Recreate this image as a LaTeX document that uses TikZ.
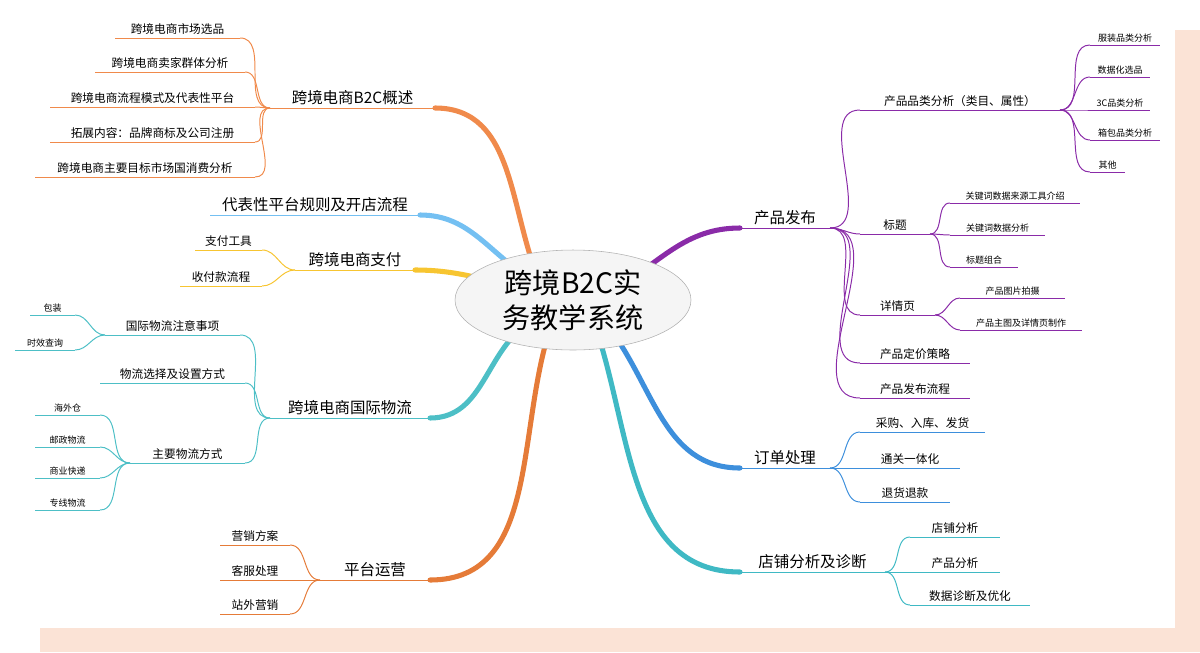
\documentclass[tikz,border=0pt]{standalone}
\usepackage{fontspec}
\setmainfont{Noto Sans CJK SC}
\usetikzlibrary{calc,positioning,shapes.geometric}
\definecolor{bgpeach}{HTML}{FBE3D6}
\definecolor{cOrange}{HTML}{F08A4B}
\definecolor{cBlue}{HTML}{74C0F2}
\definecolor{cYellow}{HTML}{F7C531}
\definecolor{cTeal}{HTML}{4DBFC6}
\definecolor{cRust}{HTML}{E57B38}
\definecolor{cPurple}{HTML}{8A2BA8}
\definecolor{cBlueB}{HTML}{3D8FDC}
\definecolor{cTealB}{HTML}{3FB9C4}
\tikzset{
  mainfont/.style = {font=\fontsize{11}{13}\selectfont},
  subfont/.style  = {font=\fontsize{8.3}{10}\selectfont},
  leaffont/.style = {font=\fontsize{6.4}{8}\selectfont},
  branch/.style   = {line width=3.6pt, line cap=round},
  twig/.style     = {line width=0.7pt}
}
% topic: name, font style, colour, x1, x2, y, text
\newcommand\topic[7]{%
  \coordinate (#1-l) at (#4,#6); \coordinate (#1-r) at (#5,#6);
  \draw[twig, #3] (#1-l) -- (#1-r);
  \node[#2, anchor=south, inner sep=2pt] (#1) at ($(#1-l)!0.5!(#1-r)$) {#7};}
\begin{document}
\begin{tikzpicture}[x=0.025cm, y=-0.025cm]
  \useasboundingbox (0,0) rectangle (1200,652);
  \fill[bgpeach] (1175,30) rectangle (1200,652);
  \fill[bgpeach] (40,628) rectangle (1200,652);
  \coordinate (c) at (573,300);

  % left side
  \topic{gs}{mainfont}{cOrange}{270}{435}{108}{跨境电商B2C概述}
  \topic{gs1}{subfont}{cOrange}{115}{240}{38}{跨境电商市场选品}
  \topic{gs2}{subfont}{cOrange}{95}{245}{72}{跨境电商卖家群体分析}
  \topic{gs3}{subfont}{cOrange}{50}{255}{107}{跨境电商流程模式及代表性平台}
  \topic{gs4}{subfont}{cOrange}{50}{255}{142}{拓展内容：品牌商标及公司注册}
  \topic{gs5}{subfont}{cOrange}{35}{255}{177}{跨境电商主要目标市场国消费分析}
  \foreach \k in {1,...,5} \draw[twig, cOrange] (gs-l) to[out=180,in=0] (gs\k-r);

  \topic{gz}{mainfont}{cBlue}{210}{420}{215}{代表性平台规则及开店流程}

  \topic{zf}{mainfont}{cYellow}{295}{415}{270}{跨境电商支付}
  \topic{zf1}{subfont}{cYellow}{195}{262}{250}{支付工具}
  \topic{zf2}{subfont}{cYellow}{180}{262}{286}{收付款流程}
  \foreach \k in {1,2} \draw[twig, cYellow] (zf-l) to[out=180,in=0] (zf\k-r);

  \topic{wl}{mainfont}{cTeal}{270}{430}{418}{跨境电商国际物流}
  \topic{wl1}{subfont}{cTeal}{105}{240}{335}{国际物流注意事项}
  \topic{wl2}{subfont}{cTeal}{100}{245}{383}{物流选择及设置方式}
  \topic{wl3}{subfont}{cTeal}{130}{245}{463}{主要物流方式}
  \foreach \k in {1,2,3} \draw[twig, cTeal] (wl-l) to[out=180,in=0] (wl\k-r);
  \topic{wla}{leaffont}{cTeal}{30}{75}{315}{包装}
  \topic{wlb}{leaffont}{cTeal}{15}{75}{350}{时效查询}
  \foreach \k in {a,b} \draw[twig, cTeal] (wl1-l) to[out=180,in=0] (wl\k-r);
  \topic{wlc}{leaffont}{cTeal}{35}{100}{415}{海外仓}
  \topic{wld}{leaffont}{cTeal}{35}{100}{447}{邮政物流}
  \topic{wle}{leaffont}{cTeal}{35}{100}{478}{商业快递}
  \topic{wlf}{leaffont}{cTeal}{35}{100}{510}{专线物流}
  \foreach \k in {c,d,e,f} \draw[twig, cTeal] (wl3-l) to[out=180,in=0] (wl\k-r);

  \topic{yy}{mainfont}{cRust}{320}{430}{580}{平台运营}
  \topic{yy1}{subfont}{cRust}{220}{290}{545}{营销方案}
  \topic{yy2}{subfont}{cRust}{220}{290}{580}{客服处理}
  \topic{yy3}{subfont}{cRust}{220}{290}{614}{站外营销}
  \foreach \k in {1,2,3} \draw[twig, cRust] (yy-l) to[out=180,in=0] (yy\k-r);

  % right side
  \topic{fb}{mainfont}{cPurple}{740}{830}{228}{产品发布}
  \topic{fb1}{subfont}{cPurple}{860}{1060}{110}{产品品类分析（类目、属性）}
  \topic{fb2}{subfont}{cPurple}{860}{930}{234}{标题}
  \topic{fb3}{subfont}{cPurple}{860}{935}{315}{详情页}
  \topic{fb4}{subfont}{cPurple}{860}{970}{363}{产品定价策略}
  \topic{fb5}{subfont}{cPurple}{860}{970}{398}{产品发布流程}
  \foreach \k in {1,...,5} \draw[twig, cPurple] (fb-r) to[out=0,in=180] (fb\k-l);
  \topic{pl1}{leaffont}{cPurple}{1090}{1160}{45}{服装品类分析}
  \topic{pl2}{leaffont}{cPurple}{1090}{1150}{77}{数据化选品}
  \topic{pl3}{leaffont}{cPurple}{1090}{1150}{110}{3C品类分析}
  \topic{pl4}{leaffont}{cPurple}{1090}{1160}{140}{箱包品类分析}
  \topic{pl5}{leaffont}{cPurple}{1090}{1125}{172}{其他}
  \foreach \k in {1,...,5} \draw[twig, cPurple] (fb1-r) to[out=0,in=180] (pl\k-l);
  \topic{bt1}{leaffont}{cPurple}{950}{1080}{203}{关键词数据来源工具介绍}
  \topic{bt2}{leaffont}{cPurple}{950}{1045}{235}{关键词数据分析}
  \topic{bt3}{leaffont}{cPurple}{950}{1018}{267}{标题组合}
  \foreach \k in {1,2,3} \draw[twig, cPurple] (fb2-r) to[out=0,in=180] (bt\k-l);
  \topic{xq1}{leaffont}{cPurple}{960}{1065}{298}{产品图片拍摄}
  \topic{xq2}{leaffont}{cPurple}{960}{1082}{330}{产品主图及详情页制作}
  \foreach \k in {1,2} \draw[twig, cPurple] (fb3-r) to[out=0,in=180] (xq\k-l);

  \topic{dd}{mainfont}{cBlueB}{740}{830}{468}{订单处理}
  \topic{dd1}{subfont}{cBlueB}{860}{985}{432}{采购、入库、发货}
  \topic{dd2}{subfont}{cBlueB}{860}{960}{468}{通关一体化}
  \topic{dd3}{subfont}{cBlueB}{860}{950}{502}{退货退款}
  \foreach \k in {1,2,3} \draw[twig, cBlueB] (dd-r) to[out=0,in=180] (dd\k-l);

  \topic{dp}{mainfont}{cTealB}{740}{885}{572}{店铺分析及诊断}
  \topic{dp1}{subfont}{cTealB}{910}{1000}{537}{店铺分析}
  \topic{dp2}{subfont}{cTealB}{910}{1000}{572}{产品分析}
  \topic{dp3}{subfont}{cTealB}{910}{1030}{605}{数据诊断及优化}
  \foreach \k in {1,2,3} \draw[twig, cTealB] (dp-r) to[out=0,in=180] (dp\k-l);

  % main branches
  \draw[branch, cOrange] (c) ++(-30,-10) to[out=115,in=0] (gs-r);
  \draw[branch, cBlue] (c) ++(-40,-20) to[out=150,in=0] (gz-r);
  \draw[branch, cYellow] (c) ++(-40,-10) to[out=170,in=0] (zf-r);
  \draw[branch, cTeal] (c) ++(-40,20) to[out=210,in=0] (wl-r);
  \draw[branch, cRust] (c) ++(-20,20) to[out=250,in=0] (yy-r);
  \draw[branch, cPurple] (c) ++(40,-10) to[out=30,in=180] (fb-l);
  \draw[branch, cBlueB] (c) ++(30,20) to[out=310,in=180] (dd-l);
  \draw[branch, cTealB] (c) ++(20,20) to[out=290,in=180] (dp-l);

  \node[ellipse, draw=gray!60, fill=gray!8, minimum width=236*0.025cm,
    minimum height=96*0.025cm, align=center,
    font=\fontsize{20}{25}\selectfont] (root) at (c) {跨境B2C实\\务教学系统};
\end{tikzpicture}
\end{document}
